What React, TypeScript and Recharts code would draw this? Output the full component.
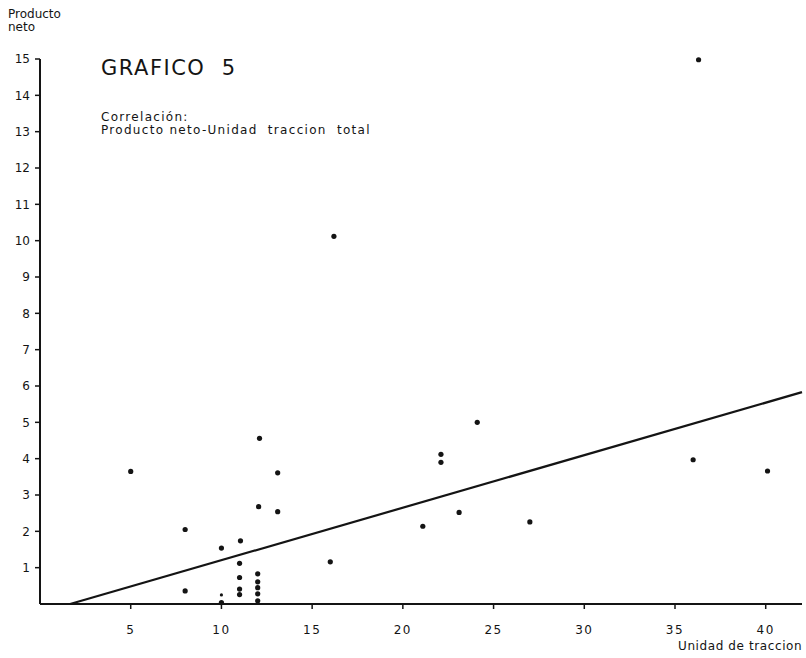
import React from "react";
import { ScatterChart, Scatter, XAxis, YAxis } from "recharts";

// unidad de traccion (x) vs producto neto (y)
const unidadTraccion = [5, 8, 8, 10, 10, 10, 11.05, 11, 11, 11, 11, 12, 12, 12, 12, 12, 12.1, 12.05, 13.1, 13.1, 16, 16.2, 21.1, 22.1, 22.1, 24.1, 23.1, 27, 36, 40.1, 36.3];
const productoNeto = [3.65, 2.05, 0.36, 1.54, 0.25, 0.04, 1.74, 1.12, 0.73, 0.41, 0.26, 0.83, 0.61, 0.45, 0.28, 0.09, 4.56, 2.68, 3.61, 2.54, 1.16, 10.12, 2.14, 4.12, 3.9, 5.0, 2.52, 2.26, 3.97, 3.66, 14.98];

// regression line end points
const lineaX = [1.66, 42];
const lineaY = [0, 5.83];

const xTicks = [5, 10, 15, 20, 25, 30, 35, 40];
const yTicks = [1, 2, 3, 4, 5, 6, 7, 8, 9, 10, 11, 12, 13, 14, 15];

const puntos = unidadTraccion.map((x, i) => ({ x, y: productoNeto[i] }));
const recta = lineaX.map((x, i) => ({ x, y: lineaY[i] }));

const ink = "#141414";
const font = "'DejaVu Sans', sans-serif";

const Dot = (props: any) => {
  const small = props.payload && props.payload.y === 0.25;
  return <circle cx={props.cx} cy={props.cy} r={small ? 1.6 : 2.6} fill={ink} />;
};

const txt = (extra: React.CSSProperties): React.CSSProperties => ({
  position: "absolute",
  fontFamily: font,
  color: ink,
  whiteSpace: "pre",
  lineHeight: 1,
  ...extra,
});

export default function App() {
  return (
    <div style={{ position: "absolute", left: 0, top: 0, width: 806, height: 658, background: "#fff" }}>
      <ScatterChart width={806} height={658} margin={{ top: 59, right: 4, left: 10, bottom: 24 }}>
        <XAxis
          type="number"
          dataKey="x"
          domain={[0, 42]}
          ticks={xTicks}
          height={30}
          tickSize={5}
          tickMargin={16}
          axisLine={{ stroke: ink, strokeWidth: 2 }}
          tickLine={{ stroke: ink, strokeWidth: 1.5 }}
          tick={{ fill: ink, fontSize: 12, fontFamily: font, letterSpacing: 1.5 }}
        />
        <YAxis
          type="number"
          dataKey="y"
          domain={[0, 15]}
          ticks={yTicks}
          width={30}
          tickSize={5}
          tickMargin={5}
          axisLine={{ stroke: ink, strokeWidth: 2 }}
          tickLine={{ stroke: ink, strokeWidth: 1.5 }}
          tick={{ fill: ink, fontSize: 12, fontFamily: font }}
        />
        <Scatter
          data={recta}
          line={{ stroke: ink, strokeWidth: 2.2 }}
          shape={() => <g />}
          isAnimationActive={false}
        />
        <Scatter data={puntos} shape={Dot} isAnimationActive={false} />
      </ScatterChart>
      <div style={txt({ left: 8, top: 8, fontSize: 12, lineHeight: "13px" })}>{"Producto\nneto"}</div>
      <div style={txt({ left: 101, top: 58, fontSize: 21, letterSpacing: 1.5 })}>{"GRAFICO  5"}</div>
      <div style={txt({ left: 101, top: 111, fontSize: 12, letterSpacing: 1.3, lineHeight: "13px" })}>
        {"Correlación:\nProducto neto-Unidad  traccion  total"}
      </div>
      <div style={txt({ left: 678, top: 640, fontSize: 12, letterSpacing: 0.6 })}>{"Unidad de traccion"}</div>
    </div>
  );
}
